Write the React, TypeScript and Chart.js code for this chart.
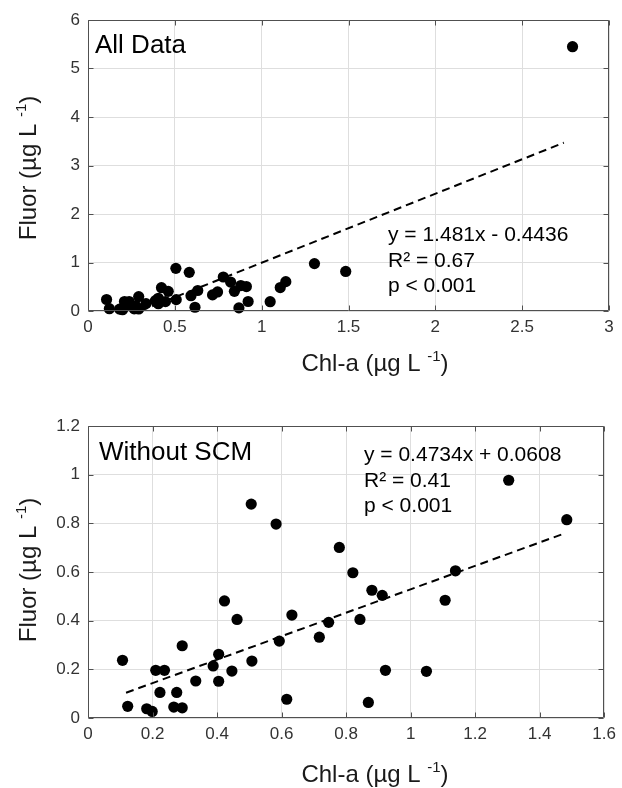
import React, { useEffect, useRef } from "react";
import { Chart, registerables } from "chart.js";

Chart.register(...registerables);

// ---- Data ----
const chlNoScm = [
  0.107, 0.123, 0.182, 0.199, 0.21, 0.237, 0.223, 0.266, 0.275, 0.292,
  0.292, 0.334, 0.388, 0.405, 0.405, 0.423, 0.446, 0.462, 0.508, 0.506,
  0.583, 0.593, 0.616, 0.632, 0.717, 0.746, 0.779, 0.821, 0.843, 0.869,
  0.88, 0.912, 0.922, 1.049, 1.107, 1.139, 1.304, 1.484,
];
const fluorNoScm = [
  0.237, 0.048, 0.038, 0.027, 0.196, 0.196, 0.105, 0.045, 0.105, 0.042,
  0.297, 0.152, 0.214, 0.262, 0.151, 0.481, 0.193, 0.405, 0.234, 0.879,
  0.797, 0.316, 0.077, 0.423, 0.332, 0.393, 0.701, 0.597, 0.405, 0.064,
  0.525, 0.504, 0.196, 0.192, 0.484, 0.605, 0.977, 0.815,
];
const chlScm = [2.79];
const fluorScm = [5.45];

const chlAll = [...chlNoScm, ...chlScm];
const fluorAll = [...fluorNoScm, ...fluorScm];

// fitted regression lines (end points as drawn)
const fitAllX = [0.3, 2.74];
const fitAllY = [0.0, 3.47];
const fitNoScmX = [0.118, 1.48];
const fitNoScmY = [0.104, 0.76];

const topXTicks = [0, 0.5, 1, 1.5, 2, 2.5, 3];
const topYTicks = [0, 1, 2, 3, 4, 5, 6];
const botXTicks = [0, 0.2, 0.4, 0.6, 0.8, 1, 1.2, 1.4, 1.6];
const botYTicks = [0, 0.2, 0.4, 0.6, 0.8, 1, 1.2];

const topPanelLabel = "All Data";
const botPanelLabel = "Without SCM";
const topStats = ["y = 1.481x - 0.4436", "R\u00B2 = 0.67", "p < 0.001"];
const botStats = ["y = 0.4734x + 0.0608", "R\u00B2 = 0.41", "p < 0.001"];

const xTitle = ["Chl-a (\u00B5g L ", "-1", ")"];
const yTitle = ["Fluor (\u00B5g L ", "-1", ")"];

const FONT = "'Liberation Sans', Arial, Helvetica, sans-serif";
const W = 622;
const H = 394;

type Panel = {
  xs: number[];
  ys: number[];
  fitX: number[];
  fitY: number[];
  xTicks: number[];
  yTicks: number[];
  label: string;
  stats: string[];
  padTop: number;
  plotBottom: number;
  labelPos: [number, number];
  statsPos: [number, number];
  xTitleY: number;
  yTitleY: number;
};

const panels: Panel[] = [
  {
    xs: chlAll,
    ys: fluorAll,
    fitX: fitAllX,
    fitY: fitAllY,
    xTicks: topXTicks,
    yTicks: topYTicks,
    label: topPanelLabel,
    stats: topStats,
    padTop: 20,
    plotBottom: 311,
    labelPos: [95, 53],
    statsPos: [388, 241],
    xTitleY: 371,
    yTitleY: 168,
  },
  {
    xs: chlNoScm,
    ys: fluorNoScm,
    fitX: fitNoScmX,
    fitY: fitNoScmY,
    xTicks: botXTicks,
    yTicks: botYTicks,
    label: botPanelLabel,
    stats: botStats,
    padTop: 32,
    plotBottom: 324,
    labelPos: [99, 66],
    statsPos: [364, 67],
    xTitleY: 388,
    yTitleY: 176,
  },
];

function drawSupText(
  ctx: CanvasRenderingContext2D,
  parts: string[],
  cx: number,
  y: number,
  size: number
) {
  const small = Math.round(size * 0.62);
  ctx.font = `${size}px ${FONT}`;
  const w0 = ctx.measureText(parts[0]).width;
  const w2 = ctx.measureText(parts[2]).width;
  ctx.font = `${small}px ${FONT}`;
  const w1 = ctx.measureText(parts[1]).width;
  const total = w0 + w1 + w2;
  let x = cx - total / 2;
  ctx.textAlign = "left";
  ctx.textBaseline = "alphabetic";
  ctx.font = `${size}px ${FONT}`;
  ctx.fillText(parts[0], x, y);
  x += w0;
  ctx.font = `${small}px ${FONT}`;
  ctx.fillText(parts[1], x, y - size * 0.42);
  x += w1;
  ctx.font = `${size}px ${FONT}`;
  ctx.fillText(parts[2], x, y);
}

function makeDecor(p: Panel) {
  return {
    id: "decor",
    afterDatasetsDraw(chart: any) {
      const ctx: CanvasRenderingContext2D = chart.ctx;
      const { left, right, top, bottom } = chart.chartArea;
      const xs = chart.scales.x;
      const ys = chart.scales.y;
      ctx.save();
      // box
      const L = Math.round(left) + 0.5;
      const R = Math.round(right) - 0.5;
      const T = Math.round(top) + 0.5;
      const B = Math.round(bottom) - 0.5;
      ctx.strokeStyle = "#505050";
      ctx.lineWidth = 1;
      ctx.beginPath();
      ctx.rect(L, T, R - L, B - T);
      ctx.stroke();
      // inner ticks
      const tl = 5;
      ctx.beginPath();
      p.xTicks.forEach((v) => {
        const px = Math.round(xs.getPixelForValue(v)) + 0.5;
        ctx.moveTo(px, B);
        ctx.lineTo(px, B - tl);
        ctx.moveTo(px, T);
        ctx.lineTo(px, T + tl);
      });
      p.yTicks.forEach((v) => {
        const py = Math.round(ys.getPixelForValue(v)) + 0.5;
        ctx.moveTo(L, py);
        ctx.lineTo(L + tl, py);
        ctx.moveTo(R, py);
        ctx.lineTo(R - tl, py);
      });
      ctx.stroke();

      // panel label
      ctx.fillStyle = "#000000";
      ctx.textAlign = "left";
      ctx.textBaseline = "alphabetic";
      ctx.font = `26px ${FONT}`;
      ctx.fillText(p.label, p.labelPos[0], p.labelPos[1]);
      // stats
      ctx.font = `21px ${FONT}`;
      p.stats.forEach((s, i) => {
        ctx.fillText(s, p.statsPos[0], p.statsPos[1] + i * 25.5);
      });

      // axis titles
      ctx.fillStyle = "#1a1a1a";
      drawSupText(ctx, xTitle, 375, p.xTitleY, 24);
      ctx.save();
      ctx.translate(36, p.yTitleY);
      ctx.rotate(-Math.PI / 2);
      drawSupText(ctx, yTitle, 0, 0, 24);
      ctx.restore();
      ctx.restore();
    },
  };
}

function PanelChart({ p, top }: { p: Panel; top: number }) {
  const ref = useRef<HTMLCanvasElement | null>(null);
  useEffect(() => {
    if (!ref.current) return;
    const points = p.xs.map((x, i) => ({ x, y: p.ys[i] }));
    const fit = p.fitX.map((x, i) => ({ x, y: p.fitY[i] }));
    const xMin = p.xTicks[0];
    const xMax = p.xTicks[p.xTicks.length - 1];
    const yMin = p.yTicks[0];
    const yMax = p.yTicks[p.yTicks.length - 1];
    const tickFont = { family: FONT, size: 17 };
    const chart = new Chart(ref.current, {
      type: "scatter",
      data: {
        datasets: [
          {
            data: points,
            backgroundColor: "#000000",
            borderWidth: 0,
            pointRadius: 5.6,
            pointHoverRadius: 5.6,
            clip: false as any,
          },
          {
            data: fit,
            showLine: true,
            borderColor: "#000000",
            borderWidth: 2,
            borderDash: [8, 5],
            pointRadius: 0,
            fill: false,
          } as any,
        ],
      },
      options: {
        animation: false,
        responsive: false,
        events: [],
        layout: {
          padding: { left: 0, right: 13, top: p.padTop, bottom: 0 },
        },
        plugins: {
          legend: { display: false },
          tooltip: { enabled: false },
          title: { display: false },
        },
        scales: {
          x: {
            type: "linear",
            min: xMin,
            max: xMax,
            afterBuildTicks: (s: any) => {
              s.ticks = p.xTicks.map((v) => ({ value: v }));
            },
            afterFit: (s: any) => {
              s.height = H - p.plotBottom;
            },
            ticks: {
              color: "#333333",
              font: tickFont,
              padding: 6,
              maxRotation: 0,
              autoSkip: false,
              callback: (v: any) => String(v),
            },
            grid: { color: "#dedede", lineWidth: 1, drawTicks: false },
            border: { display: false },
          },
          y: {
            type: "linear",
            min: yMin,
            max: yMax,
            afterBuildTicks: (s: any) => {
              s.ticks = p.yTicks.map((v) => ({ value: v }));
            },
            afterFit: (s: any) => {
              s.width = 88;
            },
            ticks: {
              color: "#333333",
              font: tickFont,
              padding: 8,
              autoSkip: false,
              callback: (v: any) => String(v),
            },
            grid: { color: "#dedede", lineWidth: 1, drawTicks: false },
            border: { display: false },
          },
        },
      },
      plugins: [makeDecor(p)],
    });
    return () => chart.destroy();
  }, [p]);
  return (
    <canvas
      ref={ref}
      width={W}
      height={H}
      style={{ position: "absolute", left: 0, top, width: W, height: H }}
    />
  );
}

export default function App() {
  return (
    <div
      style={{
        position: "absolute",
        left: 0,
        top: 0,
        width: W,
        height: 788,
        background: "#ffffff",
      }}
    >
      <PanelChart p={panels[0]} top={0} />
      <PanelChart p={panels[1]} top={394} />
    </div>
  );
}
